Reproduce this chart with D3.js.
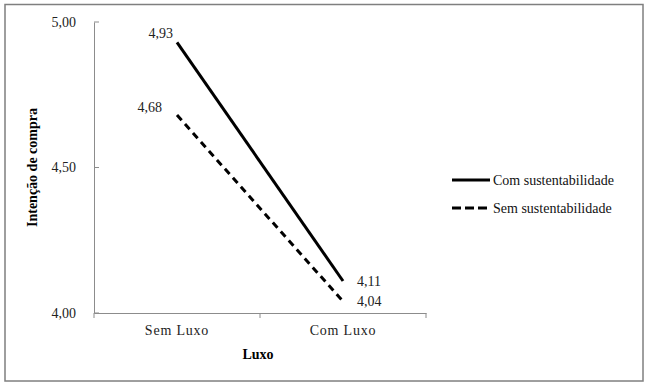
<!DOCTYPE html>
<html>
<head>
<meta charset="utf-8">
<script src="https://cdn.jsdelivr.net/npm/d3@7"></script>
<style>
  body { margin: 0; background: #fff; }
  svg text { font-family: "Liberation Serif", "Times New Roman", "DejaVu Serif", serif; }
</style>
</head>
<body>
<script>
const categories = ['Sem Luxo', 'Com Luxo'];
const seriesNames = ['Com sustentabilidade', 'Sem sustentabilidade'];
const comSust = [4.93, 4.11];
const semSust = [4.68, 4.04];
const yTicks = [4.0, 4.5, 5.0];

const width = 650, height = 387;
const margin = {left: 94, top: 22, right: 224, bottom: 74};
const serif = '"Liberation Serif", "Times New Roman", "DejaVu Serif", serif';

const svg = d3.select('body').append('svg')
  .attr('width', width)
  .attr('height', height)
  .attr('font-family', serif);

// outer frame
svg.append('rect')
  .attr('x', 5).attr('y', 4.5)
  .attr('width', 638).attr('height', 376.5)
  .attr('fill', '#fff')
  .attr('stroke', '#7f7f7f')
  .attr('stroke-width', 1.5);

const x = d3.scaleBand()
  .domain(categories)
  .range([margin.left, width - margin.right]);

const y = d3.scaleLinear()
  .domain([4, 5])
  .range([height - margin.bottom, margin.top]);

const fmt = d => d.toFixed(2).replace('.', ',');

// x axis
const xAxis = svg.append('g')
  .attr('transform', `translate(0,${y(4)})`)
  .call(d3.axisBottom(x).tickSize(0).tickPadding(12));
xAxis.attr('font-family', serif);
xAxis.select('.domain').attr('stroke', '#8c8c8c');
xAxis.selectAll('text')
  .attr('font-size', 14).attr('fill', '#222')
  .attr('letter-spacing', 0.8);
// x ticks between bands
const xEdges = [x.range()[0], x(categories[1]), x.range()[1]];
svg.selectAll('line.xtick').data(xEdges).enter().append('line')
  .attr('class', 'xtick')
  .attr('x1', d => d).attr('x2', d => d)
  .attr('y1', y(4)).attr('y2', y(4) + 5)
  .attr('stroke', '#8c8c8c');

// y axis
const yAxis = svg.append('g')
  .attr('transform', `translate(${margin.left},0)`)
  .call(d3.axisLeft(y).tickValues(yTicks).tickFormat(fmt).tickSize(0).tickPadding(18));
yAxis.attr('font-family', serif);
yAxis.select('.domain').attr('stroke', '#8c8c8c');
yAxis.selectAll('text')
  .attr('font-size', 14).attr('fill', '#222');
svg.selectAll('line.ytick').data(yTicks).enter().append('line')
  .attr('class', 'ytick')
  .attr('x1', margin.left).attr('x2', margin.left + 5)
  .attr('y1', d => y(d)).attr('y2', d => y(d))
  .attr('stroke', '#8c8c8c');

// axis titles
svg.append('text')
  .attr('x', 258).attr('y', 359)
  .attr('text-anchor', 'middle')
  .attr('font-size', 14).attr('font-weight', 'bold')
  .text('Luxo');

svg.append('text')
  .attr('transform', `translate(37,${(y(4) + y(5)) / 2}) rotate(-90)`)
  .attr('text-anchor', 'middle')
  .attr('font-size', 14).attr('font-weight', 'bold')
  .text('Intenção de compra');

// lines
const cx = c => x(c) + x.bandwidth() / 2;
const line = d3.line()
  .x((d, i) => cx(categories[i]))
  .y(d => y(d));

const series = [
  {name: seriesNames[0], values: comSust, dash: null, startDx: -4, startDy: -4, endDy: 5},
  {name: seriesNames[1], values: semSust, dash: '7,5', startDx: -15, startDy: -3, endDy: 5}
];

series.forEach(s => {
  svg.append('path')
    .datum(s.values)
    .attr('d', line)
    .attr('fill', 'none')
    .attr('stroke', '#000')
    .attr('stroke-width', 3)
    .attr('stroke-dasharray', s.dash);
});

// value labels
const labelStyle = sel => sel.attr('font-size', 14).attr('fill', '#222');
series.forEach(s => {
  svg.append('text')
    .attr('x', cx(categories[0]) + s.startDx)
    .attr('y', y(s.values[0]) + s.startDy)
    .attr('text-anchor', 'end')
    .call(labelStyle)
    .text(fmt(s.values[0]));
  svg.append('text')
    .attr('x', cx(categories[1]) + 14)
    .attr('y', y(s.values[1]) + s.endDy)
    .attr('text-anchor', 'start')
    .call(labelStyle)
    .text(fmt(s.values[1]));
});

// legend
const legend = svg.append('g').attr('transform', 'translate(452,180)');
series.forEach((s, i) => {
  const g = legend.append('g').attr('transform', `translate(0,${i * 28})`);
  g.append('line')
    .attr('x1', 0).attr('x2', 38)
    .attr('stroke', '#000').attr('stroke-width', 3)
    .attr('stroke-dasharray', s.dash ? '9,4' : null);
  g.append('text')
    .attr('x', 41).attr('y', 4.5)
    .attr('font-size', 14).attr('fill', '#111')
    .text(s.name);
});
</script>
</body>
</html>
